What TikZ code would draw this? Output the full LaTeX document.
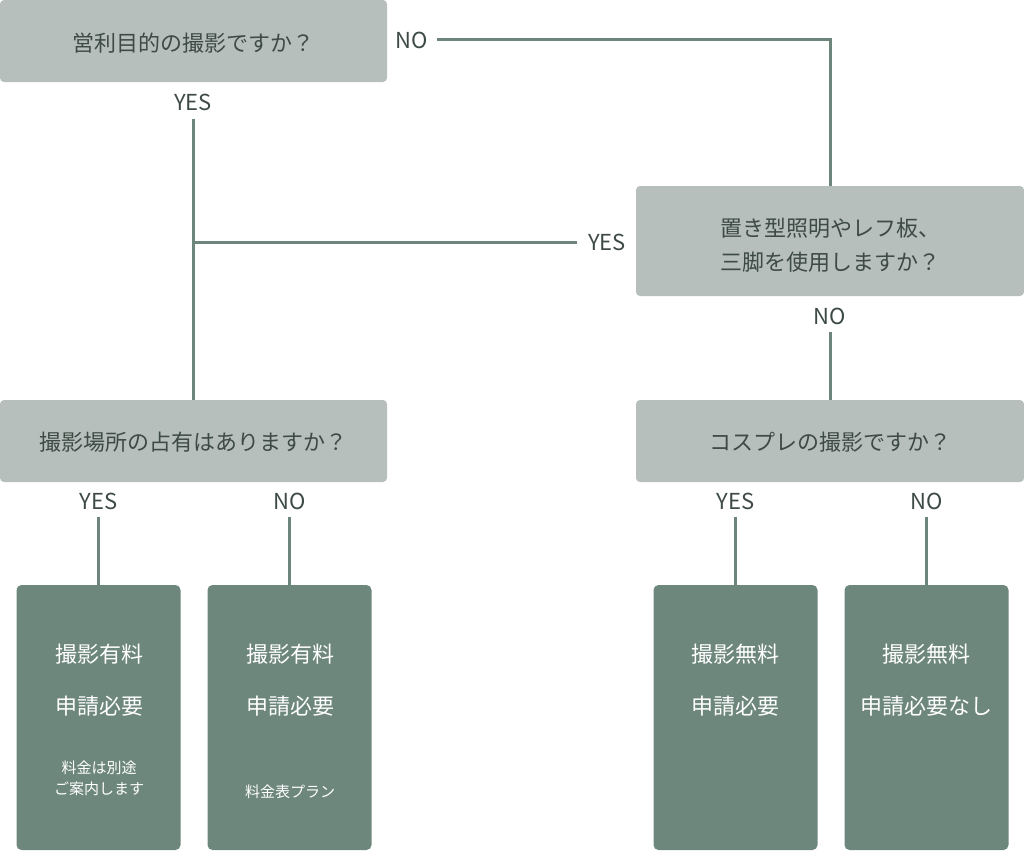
\documentclass[tikz,border=0pt]{standalone}
\usepackage{fontspec}
\setmainfont{Noto Sans CJK JP}
\begin{document}
\begin{tikzpicture}[x=1pt,y=-1pt,
  q/.style={draw=none,fill=qfill,rounded corners=4pt,inner sep=0pt,text=qtext,font=\fontsize{22}{32}\selectfont,align=center},
  qt/.style={inner sep=0pt,text=qtext,font=\fontsize{22}{34}\selectfont,align=center},
  leaf/.style={draw=none,fill=leaffill,rounded corners=5pt,inner sep=0pt,minimum width=164pt,minimum height=265pt},
  lt/.style={text=white,font=\fontsize{22}{28}\selectfont,inner sep=0pt},
  ls/.style={text=white,font=\fontsize{15}{21}\selectfont,align=center,inner sep=0pt},
  lbl/.style={text=qtext,font=\fontsize{22}{24}\selectfont,inner sep=0pt},
  conn/.style={draw=linec,line width=3pt}]
\definecolor{qfill}{HTML}{B6BFBB}
\definecolor{qtext}{HTML}{3E4A45}
\definecolor{leaffill}{HTML}{6E877D}
\definecolor{linec}{HTML}{6E857C}
\useasboundingbox (0,0) rectangle (1024,851);
% question boxes
\node[q,minimum width=387pt,minimum height=82pt] (q1) at (193.5,41) {};
\node[qt] (q1t) at (193.5,43) {営利目的の撮影ですか？};
\node[q,minimum width=388pt,minimum height=110pt] (q2) at (830,241) {};
\node[qt] (q2t) at (830,245) {置き型照明やレフ板、\\三脚を使用しますか？};
\node[q,minimum width=387pt,minimum height=82pt] (q3) at (193.5,441) {};
\node[qt] (q3t) at (193.5,442) {撮影場所の占有はありますか？};
\node[q,minimum width=388pt,minimum height=82pt] (q4) at (830,441) {};
\node[qt] (q4t) at (830,442) {コスプレの撮影ですか？};
% leaves
\node[leaf] (l1) at (98.5,717.5) {};
\node[leaf] (l2) at (289.5,717.5) {};
\node[leaf] (l3) at (735.5,717.5) {};
\node[leaf] (l4) at (926.5,717.5) {};
\node[lt] (l1a) at (99,654) {撮影有料};
\node[lt] (l1b) at (99,706) {申請必要};
\node[ls] (l1c) at (99,778) {料金は別途\\ご案内します};
\node[lt] (l2a) at (290,654) {撮影有料};
\node[lt] (l2b) at (290,706) {申請必要};
\node[ls] (l2c) at (290,792) {料金表プラン};
\node[lt] (l3a) at (735,654) {撮影無料};
\node[lt] (l3b) at (735,706) {申請必要};
\node[lt] (l4a) at (926,654) {撮影無料};
\node[lt] (l4b) at (926,706) {申請必要なし};
% labels
\node[lbl] (no1) at (412,40) {NO};
\node[lbl] (yes1) at (193,102) {YES};
\node[lbl] (yes2) at (607,242) {YES};
\node[lbl] (no2) at (830,316) {NO};
\node[lbl] (yes3) at (98.5,501) {YES};
\node[lbl] (no3) at (289.5,501) {NO};
\node[lbl] (yes4) at (735.5,501) {YES};
\node[lbl] (no4) at (926.5,501) {NO};
\coordinate (j1) at (193,242);
% connectors
\draw[conn] ([xshift=9pt]no1.east) -| (q2.north);
\draw[conn] ([yshift=-8pt]yes1.south) -- (yes1.south |- q3.north);
\draw[conn] ([xshift=-11pt]yes2.west) -- (j1);
\draw[conn] ([yshift=-7pt]no2.south) -- (no2.south |- q4.north);
\draw[conn] ([yshift=-7pt]yes3.south) -- (l1.north);
\draw[conn] ([yshift=-7pt]no3.south) -- (l2.north);
\draw[conn] ([yshift=-7pt]yes4.south) -- (l3.north);
\draw[conn] ([yshift=-7pt]no4.south) -- (l4.north);
\end{tikzpicture}
\end{document}
